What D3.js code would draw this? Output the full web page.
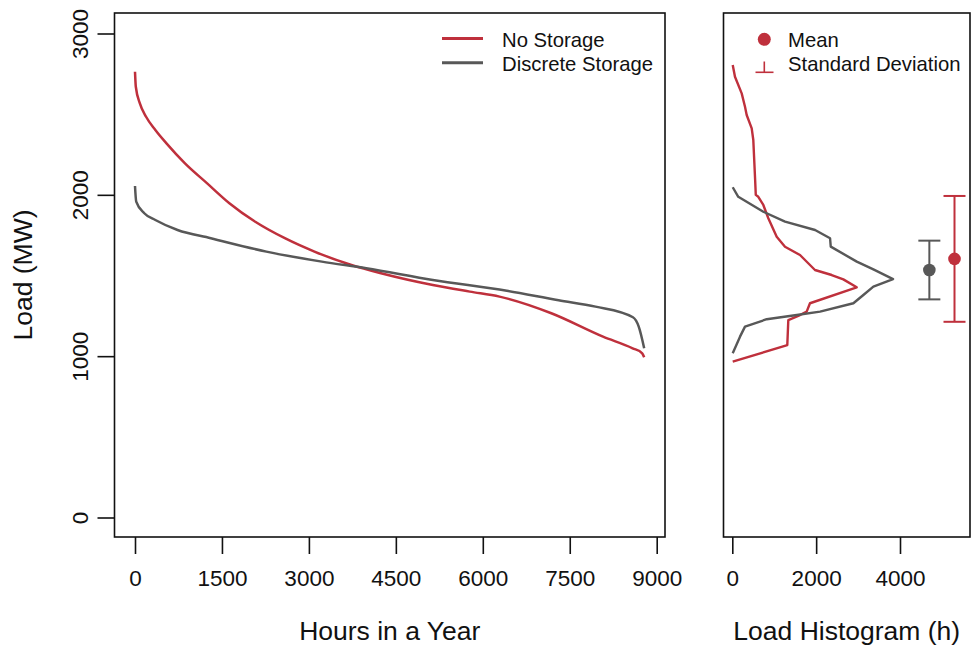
<!DOCTYPE html>
<html>
<head>
<meta charset="utf-8">
<script src="https://cdn.jsdelivr.net/npm/d3@7"></script>
<style>
  body { margin: 0; background: #fff; }
  text { font-family: "Liberation Sans", Arial, Helvetica, sans-serif; fill: #111; }
</style>
</head>
<body>
<div id="chart"></div>
<script>
// Load duration curves (hours sorted by load)
const noStorageHours = [0, 14, 84, 191, 351, 543, 862, 1245, 1628, 2075, 2585, 3096, 3734, 4244, 5138, 5776, 6288, 7182, 8074, 8584, 8750, 8784];
const noStorageLoad  = [2763, 2670, 2567, 2484, 2402, 2319, 2195, 2071, 1948, 1833, 1731, 1648, 1565, 1514, 1441, 1400, 1369, 1266, 1121, 1049, 1018, 993];

const discreteHours = [0, 21, 160, 351, 734, 1308, 2266, 3223, 3989, 5138, 6414, 7308, 7944, 8590, 8690, 8784];
const discreteLoad  = [2055, 1958, 1886, 1844, 1782, 1731, 1648, 1586, 1545, 1472, 1405, 1346, 1307, 1241, 1183, 1049];

// Load histograms (hours per load level)
const noStorageHistCount = [10, 64, 224, 303, 343, 463, 501, 545, 560, 620, 740, 859, 1059, 1257, 1615, 1972, 2371, 2648, 2967, 1853, 1774, 1615, 1336, 1312, 10];
const noStorageHistLoad  = [2805, 2732, 2629, 2546, 2495, 2412, 2340, 2090, 2000, 1988, 1937, 1855, 1740, 1678, 1627, 1534, 1503, 1476, 1427, 1328, 1276, 1255, 1224, 1069, 966];

const discreteHistCount = [10, 143, 740, 1258, 1974, 2332, 2348, 2969, 3365, 3835, 3365, 3126, 2888, 2093, 1537, 821, 303, 184, 10];
const discreteHistLoad  = [2047, 1988, 1895, 1834, 1782, 1731, 1679, 1586, 1538, 1478, 1431, 1379, 1328, 1276, 1255, 1229, 1183, 1121, 1018];

// Mean and standard deviation: [No Storage, Discrete Storage]
const meanLoad = [1603, 1534];
const sdLoad = [390, 182];
const barPosition = [5300, 4700];

const seriesNames = ["No Storage", "Discrete Storage"];
const seriesColors = ["#bf303c", "#585858"];

const hourTicks = [0, 1500, 3000, 4500, 6000, 7500, 9000];
const loadTicks = [0, 1000, 2000, 3000];
const histTicks = [0, 2000, 4000];

const W = 972, H = 648;
const boxTop = 13, boxBottom = 537;
const left1 = 114.5, right1 = 665;
const left2 = 723.5, right2 = 970;

const svg = d3.select("#chart").append("svg")
    .attr("width", W)
    .attr("height", H);

const y = d3.scaleLinear().domain([0, 3000]).range([517.5, 33.5]);
const x1 = d3.scaleLinear().domain([0, 9000]).range([135, 656.7]);
const x2 = d3.scaleLinear().domain([0, 4000]).range([732.3, 900]);

// ---- Left panel ----
const line1 = d3.line()
    .x(d => x1(d[0]))
    .y(d => y(d[1]))
    .curve(d3.curveMonotoneX);

const curves = [
    d3.zip(noStorageHours, noStorageLoad),
    d3.zip(discreteHours, discreteLoad)
];

curves.forEach((c, i) => {
    svg.append("path")
        .datum(c)
        .attr("fill", "none")
        .attr("stroke", seriesColors[i])
        .attr("stroke-width", 2.5)
        .attr("stroke-linejoin", "round")
        .attr("d", line1);
});

svg.append("rect")
    .attr("x", left1).attr("y", boxTop)
    .attr("width", right1 - left1).attr("height", boxBottom - boxTop)
    .attr("fill", "none").attr("stroke", "#111").attr("stroke-width", 1.6);

const xAxis1 = svg.append("g")
    .attr("transform", `translate(0,${boxBottom})`)
    .call(d3.axisBottom(x1).tickValues(hourTicks).tickSize(17).tickFormat(d3.format("d")));
xAxis1.select(".domain").remove();
xAxis1.selectAll("line").attr("stroke", "#111").attr("stroke-width", 1.6);
xAxis1.selectAll("text").attr("y", 49).attr("dy", 0)
    .style("font-size", "22.5px").attr("fill", "#111");

const yAxis = svg.append("g")
    .attr("transform", `translate(${left1},0)`)
    .call(d3.axisLeft(y).tickValues(loadTicks).tickSize(17).tickFormat(d3.format("d")));
yAxis.select(".domain").remove();
yAxis.selectAll("line").attr("stroke", "#111").attr("stroke-width", 1.6);
yAxis.selectAll("text")
    .attr("transform", "rotate(-90)")
    .attr("x", 0).attr("y", -26.5).attr("dy", 0)
    .attr("text-anchor", "middle")
    .style("font-size", "22.5px").attr("fill", "#111");

svg.append("text")
    .attr("transform", `translate(32,${(boxTop + boxBottom) / 2}) rotate(-90)`)
    .attr("text-anchor", "middle")
    .style("font-size", "26.5px")
    .text("Load (MW)");

svg.append("text")
    .attr("x", (left1 + right1) / 2).attr("y", 640)
    .attr("text-anchor", "middle")
    .style("font-size", "26.5px")
    .text("Hours in a Year");

// legend
seriesNames.forEach((name, i) => {
    const ly = 38.5 + i * 24.3;
    svg.append("line")
        .attr("x1", 442).attr("x2", 483)
        .attr("y1", ly).attr("y2", ly)
        .attr("stroke", seriesColors[i]).attr("stroke-width", 3);
    svg.append("text")
        .attr("x", 502).attr("y", ly + 8)
        .style("font-size", "20.3px")
        .text(name);
});

// ---- Right panel ----
const line2 = d3.line()
    .x(d => x2(d[0]))
    .y(d => y(d[1]));

const hists = [
    d3.zip(noStorageHistCount, noStorageHistLoad),
    d3.zip(discreteHistCount, discreteHistLoad)
];

hists.forEach((h, i) => {
    svg.append("path")
        .datum(h)
        .attr("fill", "none")
        .attr("stroke", seriesColors[i])
        .attr("stroke-width", 2.4)
        .attr("stroke-linejoin", "round")
        .attr("d", line2);
});

// error bars
const capHalf = 11;
meanLoad.forEach((m, i) => {
    const bx = x2(barPosition[i]);
    const g = svg.append("g")
        .attr("stroke", seriesColors[i])
        .attr("stroke-width", 2);
    g.append("line")
        .attr("x1", bx).attr("x2", bx)
        .attr("y1", y(m - sdLoad[i])).attr("y2", y(m + sdLoad[i]));
    [m - sdLoad[i], m + sdLoad[i]].forEach(v => {
        g.append("line")
            .attr("x1", bx - capHalf).attr("x2", bx + capHalf)
            .attr("y1", y(v)).attr("y2", y(v));
    });
    svg.append("circle")
        .attr("cx", bx).attr("cy", y(m)).attr("r", 6.3)
        .attr("fill", seriesColors[i]);
});

svg.append("rect")
    .attr("x", left2).attr("y", boxTop)
    .attr("width", right2 - left2).attr("height", boxBottom - boxTop)
    .attr("fill", "none").attr("stroke", "#111").attr("stroke-width", 1.6);

const xAxis2 = svg.append("g")
    .attr("transform", `translate(0,${boxBottom})`)
    .call(d3.axisBottom(x2).tickValues(histTicks).tickSize(17).tickFormat(d3.format("d")));
xAxis2.select(".domain").remove();
xAxis2.selectAll("line").attr("stroke", "#111").attr("stroke-width", 1.6);
xAxis2.selectAll("text").attr("y", 49).attr("dy", 0)
    .style("font-size", "22.5px").attr("fill", "#111");

svg.append("text")
    .attr("x", (left2 + right2) / 2).attr("y", 640)
    .attr("text-anchor", "middle")
    .style("font-size", "26.5px")
    .text("Load Histogram (h)");

// legend for the error bars
svg.append("circle")
    .attr("cx", 764.3).attr("cy", 39.3).attr("r", 6.5)
    .attr("fill", seriesColors[0]);
svg.append("line")
    .attr("x1", 764.3).attr("x2", 764.3).attr("y1", 61.5).attr("y2", 72.3)
    .attr("stroke", seriesColors[0]).attr("stroke-width", 1.6);
svg.append("line")
    .attr("x1", 755.5).attr("x2", 773.5).attr("y1", 72.3).attr("y2", 72.3)
    .attr("stroke", seriesColors[0]).attr("stroke-width", 1.6);
svg.append("text")
    .attr("x", 788).attr("y", 46.5)
    .style("font-size", "20.3px")
    .text("Mean");
svg.append("text")
    .attr("x", 788).attr("y", 70.8)
    .style("font-size", "20.3px")
    .text("Standard Deviation");
</script>
</body>
</html>
